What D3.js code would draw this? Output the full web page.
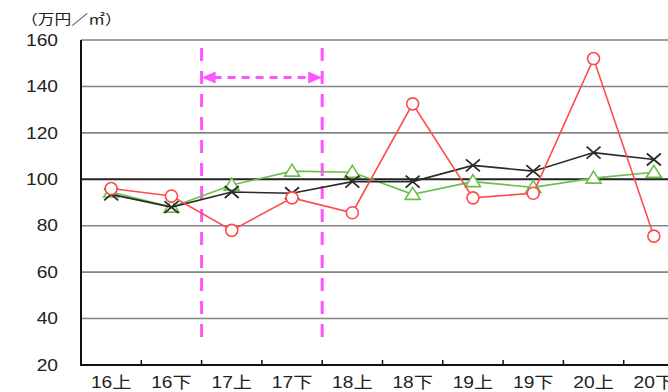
<!DOCTYPE html>
<html><head><meta charset="utf-8">
<script src="https://cdn.jsdelivr.net/npm/d3@7"></script>
<style>
html,body{margin:0;padding:0;background:#fff;}
text{font-family:"Liberation Sans",Arial,"Noto Sans CJK JP",sans-serif;fill:#222;}
</style></head>
<body><svg id="c" width="668" height="392"></svg>
<script>
const categories = ["16上","16下","17上","17下","18上","18下","19上","19下","20上","20下"];
const redValues   = [96, 92.8, 78, 92, 85.6, 132.5, 92, 94, 152, 75.5];
const blackValues = [93.5, 88, 94.5, 94, 99, 99, 106, 103.5, 111.5, 108.5];
const greenValues = [94.5, 88, 97.5, 103.5, 103, 93.5, 99, 96.5, 100.5, 103];
const yTicks = [20, 40, 60, 80, 100, 120, 140, 160];
const unitLabel = "（万円／㎡）";
const periodBounds = ["16下", "17下"]; // dashed lines after these categories

const svg = d3.select("#c");
const x = d3.scaleBand().domain(categories).range([81, 684]);
const y = d3.scaleLinear().domain([20, 160]).range([365, 40]);
const SX = 1.2;

// gridlines
svg.append("g").selectAll("line").data(yTicks.filter(d => d > 20)).join("line")
  .attr("x1", 81).attr("x2", 668)
  .attr("y1", d => y(d)).attr("y2", d => y(d))
  .attr("stroke", d => d === 100 ? "#222" : "#858585")
  .attr("stroke-width", d => d === 100 ? 2 : 1.6);

// axes lines
svg.append("line").attr("x1", 81).attr("x2", 81).attr("y1", y(160)).attr("y2", y(20))
  .attr("stroke", "#111").attr("stroke-width", 2);
svg.append("line").attr("x1", 80).attr("x2", 668).attr("y1", y(20)).attr("y2", y(20))
  .attr("stroke", "#111").attr("stroke-width", 2);
// x ticks (upwards at band boundaries)
svg.append("g").selectAll("line").data(categories.slice(0, -1)).join("line")
  .attr("x1", d => x(d) + x.bandwidth()).attr("x2", d => x(d) + x.bandwidth())
  .attr("y1", y(20)).attr("y2", y(20) - 5)
  .attr("stroke", "#111").attr("stroke-width", 1.5);

// y tick labels
svg.append("g").selectAll("text").data(yTicks).join("text")
  .attr("transform", d => `translate(58,${y(d)}) scale(${SX},1)`)
  .attr("text-anchor", "end").attr("dy", "0.36em")
  .attr("font-size", 16).text(d => d);

// x labels
svg.append("g").selectAll("text").data(categories).join("text")
  .attr("transform", d => `translate(${x(d) + x.bandwidth() / 2},388) scale(${SX},1)`)
  .attr("text-anchor", "middle")
  .attr("font-size", 16).text(d => d);

// unit label
svg.append("text").attr("transform", `translate(21,24) scale(${SX},1)`)
  .attr("font-size", 14).text(unitLabel);

// magenta dashed period lines + arrow
const mag = "#ff55ff";
const bx = periodBounds.map(c => x(c) + x.bandwidth());
svg.append("g").selectAll("line").data(bx).join("line")
  .attr("x1", d => d).attr("x2", d => d).attr("y1", 48).attr("y2", 342)
  .attr("stroke", mag).attr("stroke-width", 3).attr("stroke-dasharray", "13,10");
const ay = 77.5;
svg.append("line").attr("x1", bx[0] + 12).attr("x2", bx[1] - 12).attr("y1", ay).attr("y2", ay)
  .attr("stroke", mag).attr("stroke-width", 3).attr("stroke-dasharray", "8,6");
svg.append("path").attr("d", `M${bx[0]},${ay}L${bx[0] + 14},${ay - 6}L${bx[0] + 14},${ay + 6}Z`).attr("fill", mag);
svg.append("path").attr("d", `M${bx[1]},${ay}L${bx[1] - 14},${ay - 6}L${bx[1] - 14},${ay + 6}Z`).attr("fill", mag);

const cx = d => x(d) + x.bandwidth() / 2;
const line = d3.line().x((d, i) => cx(categories[i])).y(d => y(d));

const series = [
  {vals: greenValues, color: "#6cbf4c", marker: "tri"},
  {vals: blackValues, color: "#2a2a2a", marker: "x"},
  {vals: redValues, color: "#ff4a4a", marker: "circle"}
];
series.forEach(s => {
  svg.append("path").datum(s.vals).attr("d", line)
    .attr("fill", "none").attr("stroke", s.color).attr("stroke-width", 1.6);
  const g = svg.append("g");
  s.vals.forEach((v, i) => {
    const px = cx(categories[i]), py = y(v);
    if (s.marker === "circle") {
      g.append("circle").attr("cx", px).attr("cy", py).attr("r", 6)
        .attr("fill", "#fff").attr("stroke", s.color).attr("stroke-width", 1.6);
    } else if (s.marker === "tri") {
      g.append("path").attr("d", `M${px},${py - 7}L${px + 7.5},${py + 5}L${px - 7.5},${py + 5}Z`)
        .attr("fill", "#fff").attr("stroke", s.color).attr("stroke-width", 1.6);
    } else {
      g.append("path").attr("d", `M${px - 7},${py - 6}L${px + 7},${py + 6}M${px - 7},${py + 6}L${px + 7},${py - 6}`)
        .attr("stroke", s.color).attr("stroke-width", 1.8);
    }
  });
});
</script></body></html>
